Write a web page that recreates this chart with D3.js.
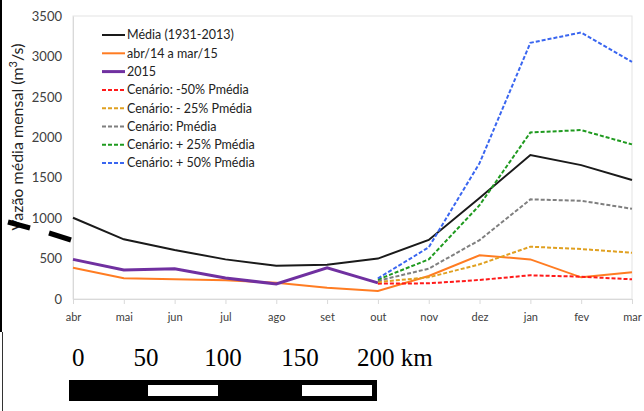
<!DOCTYPE html>
<html>
<head>
<meta charset="utf-8">
<script src="https://cdn.jsdelivr.net/npm/d3@7"></script>
<style>
  body { margin: 0; background: #fff; }
  svg { display: block; }
</style>
</head>
<body>
<svg width="644" height="411"></svg>
<script>
const months = ['abr', 'mai', 'jun', 'jul', 'ago', 'set', 'out', 'nov', 'dez', 'jan', 'fev', 'mar']
const yTicks = [0, 500, 1000, 1500, 2000, 2500, 3000, 3500]

const media = [1005, 738, 606, 490, 410, 425, 500, 730, 1250, 1780, 1656, 1471]
const abr14 = [387, 256, 243, 232, 200, 140, 100, 284, 540, 490, 268, 330]
const ano2015 = [490, 358, 375, 260, 185, 385, 200]
// scenarios start in 'out'
const cenMenos50 = [190, 194, 235, 293, 276, 243]
const cenMenos25 = [210, 268, 429, 647, 618, 572]
const cenMedia = [225, 375, 729, 1232, 1215, 1116]
const cenMais25 = [240, 490, 1160, 2060, 2089, 1912]
const cenMais50 = [255, 639, 1680, 3168, 3296, 2933]

const scaleLabels = ['0', '50', '100', '150', '200 km']
const scaleKm = [0, 50, 100, 150, 200]

const width = 644
const height = 411
const margin = { top: 16, right: 12, bottom: 112, left: 73 }

const series = [
  { name: 'Média (1931-2013)', values: media, start: 0, color: '#1a1a1a', width: 2, dash: null },
  { name: 'abr/14 a mar/15', values: abr14, start: 0, color: '#ff7c22', width: 2, dash: null },
  { name: '2015', values: ano2015, start: 0, color: '#7030a0', width: 3, dash: null },
  { name: 'Cenário: -50% Pmédia', values: cenMenos50, start: 6, color: '#ff1a1a', width: 2, dash: '4,2' },
  { name: 'Cenário: - 25% Pmédia', values: cenMenos25, start: 6, color: '#e0a020', width: 2, dash: '4,2' },
  { name: 'Cenário: Pmédia', values: cenMedia, start: 6, color: '#7f7f7f', width: 2, dash: '4,2' },
  { name: 'Cenário: + 25% Pmédia', values: cenMais25, start: 6, color: '#1f9a1f', width: 2, dash: '4,2' },
  { name: 'Cenário: + 50% Pmédia', values: cenMais50, start: 6, color: '#3a66f0', width: 2, dash: '4,2' }
]

const svg = d3.select('svg')
const font = 'Lato, "Open Sans", sans-serif'

const xScale = d3.scalePoint()
  .domain(months)
  .range([margin.left, width - margin.right])

const yScale = d3.scaleLinear()
  .domain([0, 3500])
  .range([height - margin.bottom, margin.top])

// plot frame (light grey)
svg.append('rect')
  .attr('x', margin.left)
  .attr('y', margin.top)
  .attr('width', width - margin.right - margin.left)
  .attr('height', height - margin.bottom - margin.top)
  .attr('fill', 'none')
  .attr('stroke', '#e3e3e3')

// x axis
const xAxis = d3.axisBottom(xScale).tickSize(5).tickPadding(9)
const gx = svg.append('g')
  .attr('transform', `translate(0,${height - margin.bottom})`)
  .call(xAxis)
gx.select('.domain').attr('stroke', '#d9d9d9')
gx.selectAll('line').attr('stroke', '#d9d9d9')
gx.selectAll('text').attr('fill', '#404040').attr('font-size', 11).attr('font-family', font)

// y axis
const yAxis = d3.axisLeft(yScale).tickValues(yTicks).tickFormat(d3.format('d')).tickSize(0).tickPadding(11)
const gy = svg.append('g')
  .attr('transform', `translate(${margin.left},0)`)
  .call(yAxis)
gy.select('.domain').attr('stroke', '#d9d9d9')
gy.selectAll('text').attr('fill', '#404040').attr('font-size', 13).attr('font-family', font)

// y title
svg.append('text')
  .attr('transform', `translate(23,${137}) rotate(-90)`)
  .attr('text-anchor', 'middle')
  .attr('font-size', 16)
  .attr('font-family', font)
  .attr('fill', '#222')
  .html('Vazão média mensal (m<tspan dy="-6" font-size="11">3</tspan><tspan dy="6">/s)</tspan>')

// lines
const line = d3.line()
  .x(d => xScale(d.m))
  .y(d => yScale(d.v))

series.forEach(s => {
  const pts = s.values.map((v, i) => ({ m: months[s.start + i], v: v }))
  svg.append('path')
    .datum(pts)
    .attr('d', line)
    .attr('fill', 'none')
    .attr('stroke', s.color)
    .attr('stroke-width', s.width)
    .attr('stroke-dasharray', s.dash)
})

// legend
const legend = svg.append('g').attr('transform', 'translate(102,35)')
series.forEach((s, i) => {
  const row = legend.append('g').attr('transform', `translate(0,${i * 18.3})`)
  row.append('line')
    .attr('x1', 0).attr('x2', 23)
    .attr('stroke', s.color)
    .attr('stroke-width', s.width)
    .attr('stroke-dasharray', s.dash)
  row.append('text')
    .attr('x', 25)
    .attr('dy', '0.35em')
    .attr('font-size', 12.5)
    .attr('font-family', font)
    .attr('fill', '#222')
    .text(s.name)
})

// the two thick black marks over the axis title
svg.append('line')
  .attr('x1', 8).attr('y1', 222).attr('x2', 30).attr('y2', 228)
  .attr('stroke', '#000').attr('stroke-width', 5)
svg.append('line')
  .attr('x1', 49).attr('y1', 233).attr('x2', 71).attr('y2', 240)
  .attr('stroke', '#000').attr('stroke-width', 5)

// left border
svg.append('rect').attr('x', 0).attr('y', 0).attr('width', 2).attr('height', 332).attr('fill', '#000')
svg.append('rect').attr('x', 2).attr('y', 332).attr('width', 1).attr('height', 79).attr('fill', '#333')

// scale bar
const kmScale = d3.scaleLinear().domain([0, 200]).range([69, 377])
const bar = svg.append('g')
bar.append('rect')
  .attr('x', kmScale(0)).attr('y', 380)
  .attr('width', kmScale(200) - kmScale(0)).attr('height', 21)
  .attr('fill', '#000')
;[[50, 100], [150, 200]].forEach(([a, b]) => {
  bar.append('rect')
    .attr('x', kmScale(a) + 2).attr('y', 385)
    .attr('width', kmScale(b) - kmScale(a) - 7).attr('height', 11)
    .attr('fill', '#fff')
})
scaleKm.forEach((k, i) => {
  bar.append('text')
    .attr('x', kmScale(k) + (i === 0 ? 3 : 0))
    .attr('y', 366)
    .attr('text-anchor', i === 0 ? 'start' : (i === 4 ? 'start' : 'middle'))
    .attr('dx', i === 4 ? -20 : 0)
    .attr('font-size', 25)
    .attr('font-family', '"Liberation Serif", serif')
    .attr('fill', '#000')
    .text(scaleLabels[i])
})
</script>
</body>
</html>
